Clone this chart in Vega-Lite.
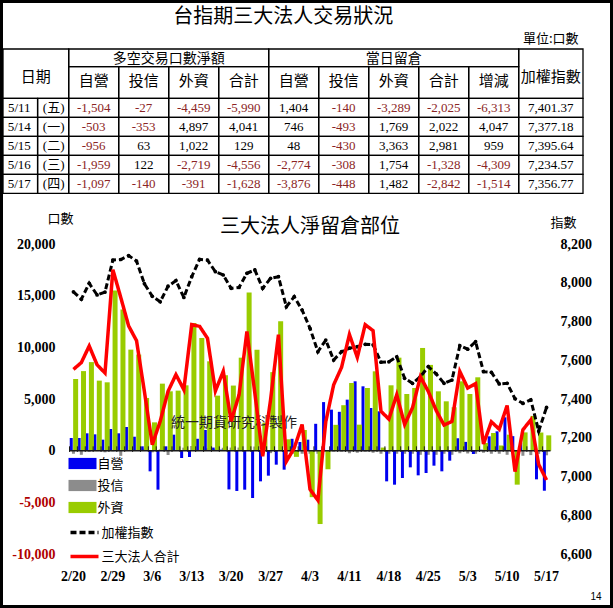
{
"$schema": "https://vega.github.io/schema/vega-lite/v6.json",
"width": 610, "height": 605, "padding": 1.5,
"autosize": {"type": "none"},
"background": "white",
"config": {
  "view": {"stroke": "black", "strokeWidth": 3},
  "locale": {"number": {"decimal": ".", "thousands": ",", "grouping": [3], "currency": ["$", ""], "minus": "-"}},
  "axis": {"grid": false}
},
"datasets": {
  "one": [{}],
  "hdr": [
    {"col": "n_dealer", "label": "自營"}, {"col": "n_trust", "label": "投信"}, {"col": "n_foreign", "label": "外資"}, {"col": "n_total", "label": "合計"},
    {"col": "o_dealer", "label": "自營"}, {"col": "o_trust", "label": "投信"}, {"col": "o_foreign", "label": "外資"}, {"col": "o_total", "label": "合計"}, {"col": "o_chg", "label": "增減"}
  ],
  "tbl": [
    {"date": "5/11", "wd": "(五)", "n_dealer": -1504, "n_trust": -27, "n_foreign": -4459, "n_total": -5990, "o_dealer": 1404, "o_trust": -140, "o_foreign": -3289, "o_total": -2025, "o_chg": -6313, "taiex": 7401.37},
    {"date": "5/14", "wd": "(一)", "n_dealer": -503, "n_trust": -353, "n_foreign": 4897, "n_total": 4041, "o_dealer": 746, "o_trust": -493, "o_foreign": 1769, "o_total": 2022, "o_chg": 4047, "taiex": 7377.18},
    {"date": "5/15", "wd": "(二)", "n_dealer": -956, "n_trust": 63, "n_foreign": 1022, "n_total": 129, "o_dealer": 48, "o_trust": -430, "o_foreign": 3363, "o_total": 2981, "o_chg": 959, "taiex": 7395.64},
    {"date": "5/16", "wd": "(三)", "n_dealer": -1959, "n_trust": 122, "n_foreign": -2719, "n_total": -4556, "o_dealer": -2774, "o_trust": -308, "o_foreign": 1754, "o_total": -1328, "o_chg": -4309, "taiex": 7234.57},
    {"date": "5/17", "wd": "(四)", "n_dealer": -1097, "n_trust": -140, "n_foreign": -391, "n_total": -1628, "o_dealer": -3876, "o_trust": -448, "o_foreign": 1482, "o_total": -2842, "o_chg": -1514, "taiex": 7356.77}
  ],
  "daily": [
    {"d": "2/20", "dealer": 1226, "trust": -300, "foreign": 6938, "total": 7864, "taiex": 7953},
    {"d": "2/21", "dealer": 1226, "trust": -400, "foreign": 7700, "total": 8526, "taiex": 7915},
    {"d": "2/22", "dealer": 1680, "trust": -120, "foreign": 8570, "total": 10130, "taiex": 7997},
    {"d": "2/23", "dealer": 1580, "trust": -50, "foreign": 6777, "total": 8307, "taiex": 7937},
    {"d": "2/24", "dealer": 1065, "trust": -160, "foreign": 6615, "total": 7520, "taiex": 7952},
    {"d": "2/29", "dealer": 2098, "trust": -70, "foreign": 15490, "total": 17518, "taiex": 8117},
    {"d": "3/1", "dealer": 1680, "trust": -500, "foreign": 13650, "total": 14830, "taiex": 8120},
    {"d": "3/2", "dealer": 2291, "trust": 0, "foreign": 9778, "total": 12069, "taiex": 8140},
    {"d": "3/3", "dealer": 1350, "trust": 0, "foreign": 9300, "total": 10650, "taiex": 8112},
    {"d": "3/5", "dealer": 420, "trust": 200, "foreign": 5100, "total": 5720, "taiex": 7995},
    {"d": "3/6", "dealer": -2000, "trust": -160, "foreign": 2740, "total": 580, "taiex": 7930},
    {"d": "3/7", "dealer": -3775, "trust": 130, "foreign": 6486, "total": 2841, "taiex": 7902},
    {"d": "3/8", "dealer": 420, "trust": -420, "foreign": 5744, "total": 5744, "taiex": 7982},
    {"d": "3/9", "dealer": 1549, "trust": 0, "foreign": 5809, "total": 7358, "taiex": 8011},
    {"d": "3/12", "dealer": -710, "trust": 290, "foreign": 6325, "total": 5905, "taiex": 7924},
    {"d": "3/13", "dealer": -613, "trust": 450, "foreign": 12360, "total": 12197, "taiex": 8031},
    {"d": "3/14", "dealer": 1150, "trust": -30, "foreign": 10907, "total": 12027, "taiex": 8121},
    {"d": "3/15", "dealer": 2000, "trust": 230, "foreign": 8648, "total": 10878, "taiex": 8117},
    {"d": "3/16", "dealer": 300, "trust": 150, "foreign": 5325, "total": 5775, "taiex": 8057},
    {"d": "3/19", "dealer": 100, "trust": 280, "foreign": 7300, "total": 7680, "taiex": 8040},
    {"d": "3/20", "dealer": -3750, "trust": 300, "foreign": 6300, "total": 2850, "taiex": 7971},
    {"d": "3/21", "dealer": -3900, "trust": 300, "foreign": 9000, "total": 5400, "taiex": 7976},
    {"d": "3/22", "dealer": -3775, "trust": 0, "foreign": 15300, "total": 11525, "taiex": 8049},
    {"d": "3/23", "dealer": -4582, "trust": 400, "foreign": 9778, "total": 5596, "taiex": 8066},
    {"d": "3/26", "dealer": -2969, "trust": -280, "foreign": 2700, "total": -549, "taiex": 7971},
    {"d": "3/27", "dealer": -2420, "trust": -240, "foreign": 7600, "total": 4940, "taiex": 8023},
    {"d": "3/28", "dealer": -1355, "trust": 65, "foreign": 12520, "total": 11230, "taiex": 8031},
    {"d": "3/29", "dealer": -1840, "trust": -300, "foreign": 1100, "total": -1040, "taiex": 7876},
    {"d": "3/30", "dealer": 1150, "trust": -300, "foreign": -600, "total": 250, "taiex": 7928},
    {"d": "4/2", "dealer": 839, "trust": -300, "foreign": 2000, "total": 2539, "taiex": 7859},
    {"d": "4/3", "dealer": 1065, "trust": -300, "foreign": -4500, "total": -3735, "taiex": 7765},
    {"d": "4/5", "dealer": 2600, "trust": -300, "foreign": -7100, "total": -4800, "taiex": 7644},
    {"d": "4/6", "dealer": 4700, "trust": -100, "foreign": -1800, "total": 2800, "taiex": 7704},
    {"d": "4/9", "dealer": 3969, "trust": -100, "foreign": 2500, "total": 6369, "taiex": 7601},
    {"d": "4/10", "dealer": 3760, "trust": -100, "foreign": 4400, "total": 8060, "taiex": 7644},
    {"d": "4/11", "dealer": 4937, "trust": -250, "foreign": 6550, "total": 11237, "taiex": 7662},
    {"d": "4/12", "dealer": 6712, "trust": -200, "foreign": 2517, "total": 9029, "taiex": 7670},
    {"d": "4/13", "dealer": 6228, "trust": -100, "foreign": 6067, "total": 12195, "taiex": 7682},
    {"d": "4/16", "dealer": 4130, "trust": -200, "foreign": 7680, "total": 11610, "taiex": 7680},
    {"d": "4/17", "dealer": 3808, "trust": -300, "foreign": 300, "total": 3808, "taiex": 7590},
    {"d": "4/18", "dealer": -2969, "trust": -300, "foreign": 6325, "total": 3056, "taiex": 7592},
    {"d": "4/19", "dealer": -3292, "trust": -300, "foreign": 9000, "total": 5408, "taiex": 7618},
    {"d": "4/20", "dealer": -2646, "trust": -300, "foreign": 5486, "total": 2540, "taiex": 7507},
    {"d": "4/23", "dealer": -1614, "trust": -300, "foreign": 6067, "total": 4153, "taiex": 7481},
    {"d": "4/24", "dealer": -2388, "trust": -400, "foreign": 9939, "total": 7151, "taiex": 7515},
    {"d": "4/25", "dealer": -2162, "trust": -400, "foreign": 8300, "total": 5738, "taiex": 7567},
    {"d": "4/26", "dealer": -1452, "trust": -400, "foreign": 5744, "total": 3892, "taiex": 7530},
    {"d": "4/27", "dealer": -2000, "trust": -300, "foreign": 4776, "total": 2476, "taiex": 7481},
    {"d": "4/30", "dealer": -968, "trust": -400, "foreign": 4200, "total": 2832, "taiex": 7498},
    {"d": "5/2", "dealer": 1200, "trust": -250, "foreign": 6712, "total": 7662, "taiex": 7675},
    {"d": "5/3", "dealer": 850, "trust": -270, "foreign": 5486, "total": 6066, "taiex": 7657},
    {"d": "5/4", "dealer": -323, "trust": -300, "foreign": 7100, "total": 6477, "taiex": 7696},
    {"d": "5/7", "dealer": 100, "trust": -200, "foreign": 742, "total": 642, "taiex": 7541},
    {"d": "5/8", "dealer": 1388, "trust": -300, "foreign": 1710, "total": 2798, "taiex": 7538},
    {"d": "5/9", "dealer": 1872, "trust": -300, "foreign": 500, "total": 2072, "taiex": 7478},
    {"d": "5/10", "dealer": 3227, "trust": -400, "foreign": 1549, "total": 4376, "taiex": 7481},
    {"d": "5/11", "dealer": 1404, "trust": -140, "foreign": -3289, "total": -2025, "taiex": 7401.37},
    {"d": "5/14", "dealer": 746, "trust": -493, "foreign": 1769, "total": 2022, "taiex": 7377.18},
    {"d": "5/15", "dealer": 48, "trust": -430, "foreign": 3363, "total": 2981, "taiex": 7395.64},
    {"d": "5/16", "dealer": -2774, "trust": -308, "foreign": 1754, "total": -1328, "taiex": 7234.57},
    {"d": "5/17", "dealer": -3876, "trust": -448, "foreign": 1482, "total": -2842, "taiex": 7356.77}
  ]
},
"layer": [
  {
    "layer": [
      {
        "data": {"name": "tbl"},
        "transform": [{"fold": ["n_dealer", "n_trust", "n_foreign", "n_total", "o_dealer", "o_trust", "o_foreign", "o_total", "o_chg"], "as": ["col", "val"]}],
        "encoding": {
          "x": {"field": "col", "type": "ordinal", "axis": null, "scale": {"domain": ["date", "n_dealer", "n_trust", "n_foreign", "n_total", "o_dealer", "o_trust", "o_foreign", "o_total", "o_chg", "taiex"], "range": [17.2, 567.2], "paddingInner": 0, "paddingOuter": 0}},
          "y": {"field": "date", "type": "ordinal", "axis": null, "scale": {"domain": ["h1", "h2", "5/11", "5/14", "5/15", "5/16", "5/17"], "range": [58.8, 191.8], "paddingInner": 0, "paddingOuter": 0}}
        },
        "layer": [
          {"mark": {"type": "rect", "fill": "transparent", "stroke": "black", "strokeWidth": 1.3}},
          {"mark": {"type": "text", "font": "Liberation Serif", "fontSize": 13},
           "encoding": {"text": {"field": "val", "type": "quantitative", "format": ",d"},
                        "color": {"condition": {"test": "datum.val < 0", "value": "#8b2525"}, "value": "black"}}}
        ]
      },
      {
        "data": {"name": "tbl"},
        "encoding": {
          "y": {"field": "date", "type": "ordinal", "axis": null, "scale": {"domain": ["h1", "h2", "5/11", "5/14", "5/15", "5/16", "5/17"], "range": [58.8, 191.8], "paddingInner": 0, "paddingOuter": 0}}
        },
        "layer": [
          {"mark": {"type": "rect", "fill": "transparent", "stroke": "black", "strokeWidth": 1.3},
           "encoding": {"x": {"datum": "date", "type": "ordinal", "bandPosition": -0.314, "axis": null, "scale": {"domain": ["date", "n_dealer", "n_trust", "n_foreign", "n_total", "o_dealer", "o_trust", "o_foreign", "o_total", "o_chg", "taiex"], "range": [17.2, 567.2], "paddingInner": 0, "paddingOuter": 0}},
                        "x2": {"datum": "date", "bandPosition": 0.378}}},
          {"mark": {"type": "rect", "fill": "transparent", "stroke": "black", "strokeWidth": 1.3},
           "encoding": {"x": {"datum": "date", "type": "ordinal", "bandPosition": 0.378, "axis": null, "scale": {"domain": ["date", "n_dealer", "n_trust", "n_foreign", "n_total", "o_dealer", "o_trust", "o_foreign", "o_total", "o_chg", "taiex"], "range": [17.2, 567.2], "paddingInner": 0, "paddingOuter": 0}},
                        "x2": {"datum": "date", "bandPosition": 1}}},
          {"mark": {"type": "rect", "fill": "transparent", "stroke": "black", "strokeWidth": 1.3},
           "encoding": {"x": {"datum": "taiex", "type": "ordinal", "bandPosition": 0, "axis": null, "scale": {"domain": ["date", "n_dealer", "n_trust", "n_foreign", "n_total", "o_dealer", "o_trust", "o_foreign", "o_total", "o_chg", "taiex"], "range": [17.2, 567.2], "paddingInner": 0, "paddingOuter": 0}},
                        "x2": {"datum": "taiex", "bandPosition": 1.286}}},
          {"mark": {"type": "text", "font": "Liberation Serif", "fontSize": 13, "color": "black"},
           "encoding": {"x": {"datum": "date", "type": "ordinal", "bandPosition": 0.01, "axis": null, "scale": {"domain": ["date", "n_dealer", "n_trust", "n_foreign", "n_total", "o_dealer", "o_trust", "o_foreign", "o_total", "o_chg", "taiex"], "range": [17.2, 567.2], "paddingInner": 0, "paddingOuter": 0}},
                        "text": {"field": "date"}}},
          {"mark": {"type": "text", "font": "Liberation Serif, Noto Sans CJK TC", "fontSize": 13, "color": "black"},
           "encoding": {"x": {"datum": "date", "type": "ordinal", "bandPosition": 0.7, "axis": null, "scale": {"domain": ["date", "n_dealer", "n_trust", "n_foreign", "n_total", "o_dealer", "o_trust", "o_foreign", "o_total", "o_chg", "taiex"], "range": [17.2, 567.2], "paddingInner": 0, "paddingOuter": 0}},
                        "text": {"field": "wd"}}},
          {"mark": {"type": "text", "font": "Liberation Serif", "fontSize": 13, "color": "black"},
           "encoding": {"x": {"datum": "taiex", "type": "ordinal", "bandPosition": 0.643, "axis": null, "scale": {"domain": ["date", "n_dealer", "n_trust", "n_foreign", "n_total", "o_dealer", "o_trust", "o_foreign", "o_total", "o_chg", "taiex"], "range": [17.2, 567.2], "paddingInner": 0, "paddingOuter": 0}},
                        "text": {"field": "taiex", "type": "quantitative", "format": ",.2f"}}}
        ]
      },
      {
        "data": {"name": "hdr"},
        "encoding": {
          "x": {"field": "col", "type": "ordinal", "axis": null, "scale": {"domain": ["date", "n_dealer", "n_trust", "n_foreign", "n_total", "o_dealer", "o_trust", "o_foreign", "o_total", "o_chg", "taiex"], "range": [17.2, 567.2], "paddingInner": 0, "paddingOuter": 0}}
        },
        "layer": [
          {"mark": {"type": "rect", "fill": "transparent", "stroke": "black", "strokeWidth": 1.3},
           "encoding": {"y": {"datum": "h2", "type": "ordinal", "bandPosition": -0.663, "axis": null, "scale": {"domain": ["h1", "h2", "5/11", "5/14", "5/15", "5/16", "5/17"], "range": [58.8, 191.8], "paddingInner": 0, "paddingOuter": 0}},
                        "y2": {"datum": "h2", "bandPosition": 1}}},
          {"mark": {"type": "text", "font": "Noto Sans CJK TC", "fontSize": 15, "color": "black"},
           "encoding": {"y": {"datum": "h2", "type": "ordinal", "bandPosition": 0.09, "axis": null, "scale": {"domain": ["h1", "h2", "5/11", "5/14", "5/15", "5/16", "5/17"], "range": [58.8, 191.8], "paddingInner": 0, "paddingOuter": 0}},
                        "text": {"field": "label"}}}
        ]
      },
      {
        "data": {"name": "one"},
        "layer": [
          {"mark": {"type": "rect", "fill": "transparent", "stroke": "black", "strokeWidth": 1.3},
           "encoding": {"x": {"datum": "n_dealer", "type": "ordinal", "bandPosition": 0, "axis": null, "scale": {"domain": ["date", "n_dealer", "n_trust", "n_foreign", "n_total", "o_dealer", "o_trust", "o_foreign", "o_total", "o_chg", "taiex"], "range": [17.2, 567.2], "paddingInner": 0, "paddingOuter": 0}},
                        "x2": {"datum": "n_total", "bandPosition": 1},
                        "y": {"datum": "h1", "type": "ordinal", "bandPosition": -0.595, "axis": null, "scale": {"domain": ["h1", "h2", "5/11", "5/14", "5/15", "5/16", "5/17"], "range": [58.8, 191.8], "paddingInner": 0, "paddingOuter": 0}},
                        "y2": {"datum": "h1", "bandPosition": 0.337}}},
          {"mark": {"type": "rect", "fill": "transparent", "stroke": "black", "strokeWidth": 1.3},
           "encoding": {"x": {"datum": "o_dealer", "type": "ordinal", "bandPosition": 0, "axis": null, "scale": {"domain": ["date", "n_dealer", "n_trust", "n_foreign", "n_total", "o_dealer", "o_trust", "o_foreign", "o_total", "o_chg", "taiex"], "range": [17.2, 567.2], "paddingInner": 0, "paddingOuter": 0}},
                        "x2": {"datum": "o_chg", "bandPosition": 1},
                        "y": {"datum": "h1", "type": "ordinal", "bandPosition": -0.595, "axis": null, "scale": {"domain": ["h1", "h2", "5/11", "5/14", "5/15", "5/16", "5/17"], "range": [58.8, 191.8], "paddingInner": 0, "paddingOuter": 0}},
                        "y2": {"datum": "h1", "bandPosition": 0.337}}},
          {"mark": {"type": "rect", "fill": "transparent", "stroke": "black", "strokeWidth": 1.3},
           "encoding": {"x": {"datum": "date", "type": "ordinal", "bandPosition": -0.314, "axis": null, "scale": {"domain": ["date", "n_dealer", "n_trust", "n_foreign", "n_total", "o_dealer", "o_trust", "o_foreign", "o_total", "o_chg", "taiex"], "range": [17.2, 567.2], "paddingInner": 0, "paddingOuter": 0}},
                        "x2": {"datum": "date", "bandPosition": 1},
                        "y": {"datum": "h1", "type": "ordinal", "bandPosition": -0.595, "axis": null, "scale": {"domain": ["h1", "h2", "5/11", "5/14", "5/15", "5/16", "5/17"], "range": [58.8, 191.8], "paddingInner": 0, "paddingOuter": 0}},
                        "y2": {"datum": "h2", "bandPosition": 1}}},
          {"mark": {"type": "rect", "fill": "transparent", "stroke": "black", "strokeWidth": 1.3},
           "encoding": {"x": {"datum": "taiex", "type": "ordinal", "bandPosition": 0, "axis": null, "scale": {"domain": ["date", "n_dealer", "n_trust", "n_foreign", "n_total", "o_dealer", "o_trust", "o_foreign", "o_total", "o_chg", "taiex"], "range": [17.2, 567.2], "paddingInner": 0, "paddingOuter": 0}},
                        "x2": {"datum": "taiex", "bandPosition": 1.286},
                        "y": {"datum": "h1", "type": "ordinal", "bandPosition": -0.595, "axis": null, "scale": {"domain": ["h1", "h2", "5/11", "5/14", "5/15", "5/16", "5/17"], "range": [58.8, 191.8], "paddingInner": 0, "paddingOuter": 0}},
                        "y2": {"datum": "h2", "bandPosition": 1}}},
          {"mark": {"type": "text", "font": "Noto Sans CJK TC", "fontSize": 14, "color": "black"},
           "encoding": {"x": {"datum": "n_foreign", "type": "ordinal", "bandPosition": 0, "axis": null, "scale": {"domain": ["date", "n_dealer", "n_trust", "n_foreign", "n_total", "o_dealer", "o_trust", "o_foreign", "o_total", "o_chg", "taiex"], "range": [17.2, 567.2], "paddingInner": 0, "paddingOuter": 0}},
                        "y": {"datum": "h1", "type": "ordinal", "bandPosition": -0.07, "axis": null, "scale": {"domain": ["h1", "h2", "5/11", "5/14", "5/15", "5/16", "5/17"], "range": [58.8, 191.8], "paddingInner": 0, "paddingOuter": 0}},
                        "text": {"value": "多空交易口數淨額"}}},
          {"mark": {"type": "text", "font": "Noto Sans CJK TC", "fontSize": 14, "color": "black"},
           "encoding": {"x": {"datum": "o_foreign", "type": "ordinal", "bandPosition": 0.5, "axis": null, "scale": {"domain": ["date", "n_dealer", "n_trust", "n_foreign", "n_total", "o_dealer", "o_trust", "o_foreign", "o_total", "o_chg", "taiex"], "range": [17.2, 567.2], "paddingInner": 0, "paddingOuter": 0}},
                        "y": {"datum": "h1", "type": "ordinal", "bandPosition": -0.07, "axis": null, "scale": {"domain": ["h1", "h2", "5/11", "5/14", "5/15", "5/16", "5/17"], "range": [58.8, 191.8], "paddingInner": 0, "paddingOuter": 0}},
                        "text": {"value": "當日留倉"}}},
          {"mark": {"type": "text", "font": "Noto Sans CJK TC", "fontSize": 15, "color": "black"},
           "encoding": {"x": {"datum": "date", "type": "ordinal", "bandPosition": 0.343, "axis": null, "scale": {"domain": ["date", "n_dealer", "n_trust", "n_foreign", "n_total", "o_dealer", "o_trust", "o_foreign", "o_total", "o_chg", "taiex"], "range": [17.2, 567.2], "paddingInner": 0, "paddingOuter": 0}},
                        "y": {"datum": "h1", "type": "ordinal", "bandPosition": 0.863, "axis": null, "scale": {"domain": ["h1", "h2", "5/11", "5/14", "5/15", "5/16", "5/17"], "range": [58.8, 191.8], "paddingInner": 0, "paddingOuter": 0}},
                        "text": {"value": "日期"}}},
          {"mark": {"type": "text", "font": "Noto Sans CJK TC", "fontSize": 15, "color": "black"},
           "encoding": {"x": {"datum": "taiex", "type": "ordinal", "bandPosition": 0.643, "axis": null, "scale": {"domain": ["date", "n_dealer", "n_trust", "n_foreign", "n_total", "o_dealer", "o_trust", "o_foreign", "o_total", "o_chg", "taiex"], "range": [17.2, 567.2], "paddingInner": 0, "paddingOuter": 0}},
                        "y": {"datum": "h1", "type": "ordinal", "bandPosition": 0.863, "axis": null, "scale": {"domain": ["h1", "h2", "5/11", "5/14", "5/15", "5/16", "5/17"], "range": [58.8, 191.8], "paddingInner": 0, "paddingOuter": 0}},
                        "text": {"value": "加權指數"}}},
          {"mark": {"type": "text", "font": "Noto Sans CJK TC", "fontSize": 13, "color": "black"},
           "encoding": {"x": {"datum": "taiex", "type": "ordinal", "bandPosition": 0.64, "axis": null, "scale": {"domain": ["date", "n_dealer", "n_trust", "n_foreign", "n_total", "o_dealer", "o_trust", "o_foreign", "o_total", "o_chg", "taiex"], "range": [17.2, 567.2], "paddingInner": 0, "paddingOuter": 0}},
                        "y": {"datum": "h1", "type": "ordinal", "bandPosition": -1.12, "axis": null, "scale": {"domain": ["h1", "h2", "5/11", "5/14", "5/15", "5/16", "5/17"], "range": [58.8, 191.8], "paddingInner": 0, "paddingOuter": 0}},
                        "text": {"value": "單位:口數"}}},
          {"mark": {"type": "text", "font": "Noto Sans CJK TC", "fontSize": 20, "color": "black"},
           "encoding": {"x": {"datum": "o_dealer", "type": "ordinal", "bandPosition": 0.29, "axis": null, "scale": {"domain": ["date", "n_dealer", "n_trust", "n_foreign", "n_total", "o_dealer", "o_trust", "o_foreign", "o_total", "o_chg", "taiex"], "range": [17.2, 567.2], "paddingInner": 0, "paddingOuter": 0}},
                        "y": {"datum": "h1", "type": "ordinal", "bandPosition": -2.28, "axis": null, "scale": {"domain": ["h1", "h2", "5/11", "5/14", "5/15", "5/16", "5/17"], "range": [58.8, 191.8], "paddingInner": 0, "paddingOuter": 0}},
                        "text": {"value": "台指期三大法人交易狀況"}}},
          {"mark": {"type": "text", "font": "Liberation Sans", "fontSize": 10, "color": "black"},
           "encoding": {"x": {"datum": "taiex", "type": "ordinal", "bandPosition": 1.546, "axis": null, "scale": {"domain": ["date", "n_dealer", "n_trust", "n_foreign", "n_total", "o_dealer", "o_trust", "o_foreign", "o_total", "o_chg", "taiex"], "range": [17.2, 567.2], "paddingInner": 0, "paddingOuter": 0}},
                        "y": {"datum": "5/17", "type": "ordinal", "bandPosition": 22.25, "axis": null, "scale": {"domain": ["h1", "h2", "5/11", "5/14", "5/15", "5/16", "5/17"], "range": [58.8, 191.8], "paddingInner": 0, "paddingOuter": 0}},
                        "text": {"value": "14"}}}
        ]
      }
    ]
  },
  {
    "data": {"name": "daily"},
    "encoding": {
      "x": {"field": "d", "type": "ordinal", "scale": {"domain": ["2/20","2/21","2/22","2/23","2/24","2/29","3/1","3/2","3/3","3/5","3/6","3/7","3/8","3/9","3/12","3/13","3/14","3/15","3/16","3/19","3/20","3/21","3/22","3/23","3/26","3/27","3/28","3/29","3/30","4/2","4/3","4/5","4/6","4/9","4/10","4/11","4/12","4/13","4/16","4/17","4/18","4/19","4/20","4/23","4/24","4/25","4/26","4/27","4/30","5/2","5/3","5/4","5/7","5/8","5/9","5/10","5/11","5/14","5/15","5/16","5/17"], "range": [68, 549], "paddingInner": 0, "paddingOuter": 0},
            "axis": {"orient": "bottom", "offset": -39.5, "values": ["2/20","2/29","3/6","3/13","3/20","3/27","4/3","4/11","4/18","4/25","5/3","5/10","5/17"], "domain": false, "ticks": false, "labelPadding": 2, "labelFont": "Liberation Serif", "labelFontSize": 14, "labelFontWeight": "bold", "labelAngle": 0, "labelColor": "black", "labelOverlap": false, "title": null}}
    },
    "layer": [
      {"mark": {"type": "bar", "width": 3, "xOffset": 0},
       "encoding": {
         "y": {"field": "trust", "type": "quantitative", "scale": {"domain": [-10000, 20000], "range": [552.5, 242.5], "nice": false},
               "axis": {"orient": "left", "offset": -55.5, "values": [-10000, -5000, 0, 5000, 10000, 15000, 20000], "format": ",.0f", "domain": false, "ticks": false, "grid": false, "labelPadding": 2, "labelFont": "Liberation Serif", "labelFontSize": 14, "labelFontWeight": "bold", "labelColor": {"condition": {"test": "datum.value < 0", "value": "#b00000"}, "value": "black"}, "title": "口數", "titleAngle": 0, "titleX": 3, "titleY": 216.5, "titleAlign": "center", "titleBaseline": "middle", "titleFont": "Noto Sans CJK TC", "titleFontSize": 13, "titleFontWeight": "normal", "titleColor": "black"}},
         "fill": {"datum": "投信", "type": "nominal", "scale": {"domain": ["自營", "投信", "外資"], "range": ["#0000f0", "#8c8c8c", "#99cc00"]},
                  "legend": {"title": null, "orient": "none", "legendX": 74, "legendY": 455, "symbolType": "M-2,-0.8H2V0.8H-2Z", "symbolSize": 196, "symbolStrokeWidth": 0, "labelFont": "Noto Sans CJK TC", "labelFontSize": 13, "labelColor": "black", "labelOffset": 8, "rowPadding": 8, "padding": 0}}
       }},
      {"mark": {"type": "bar", "width": 3, "xOffset": -2.2},
       "encoding": {
         "y": {"field": "dealer", "type": "quantitative", "scale": {"domain": [-10000, 20000], "range": [552.5, 242.5], "nice": false},
               "axis": {"orient": "left", "offset": -55.5, "values": [-10000, -5000, 0, 5000, 10000, 15000, 20000], "format": ",.0f", "domain": false, "ticks": false, "grid": false, "labelPadding": 2, "labelFont": "Liberation Serif", "labelFontSize": 14, "labelFontWeight": "bold", "labelColor": {"condition": {"test": "datum.value < 0", "value": "#b00000"}, "value": "black"}, "title": "口數", "titleAngle": 0, "titleX": 3, "titleY": 216.5, "titleAlign": "center", "titleBaseline": "middle", "titleFont": "Noto Sans CJK TC", "titleFontSize": 13, "titleFontWeight": "normal", "titleColor": "black"}},
         "fill": {"datum": "自營", "type": "nominal", "scale": {"domain": ["自營", "投信", "外資"], "range": ["#0000f0", "#8c8c8c", "#99cc00"]},
                  "legend": {"title": null, "orient": "none", "legendX": 74, "legendY": 455, "symbolType": "M-2,-0.8H2V0.8H-2Z", "symbolSize": 196, "symbolStrokeWidth": 0, "labelFont": "Noto Sans CJK TC", "labelFontSize": 13, "labelColor": "black", "labelOffset": 8, "rowPadding": 8, "padding": 0}}
       }},
      {"mark": {"type": "bar", "width": 5, "xOffset": 2.2},
       "encoding": {
         "y": {"field": "foreign", "type": "quantitative", "scale": {"domain": [-10000, 20000], "range": [552.5, 242.5], "nice": false},
               "axis": {"orient": "left", "offset": -55.5, "values": [-10000, -5000, 0, 5000, 10000, 15000, 20000], "format": ",.0f", "domain": false, "ticks": false, "grid": false, "labelPadding": 2, "labelFont": "Liberation Serif", "labelFontSize": 14, "labelFontWeight": "bold", "labelColor": {"condition": {"test": "datum.value < 0", "value": "#b00000"}, "value": "black"}, "title": "口數", "titleAngle": 0, "titleX": 3, "titleY": 216.5, "titleAlign": "center", "titleBaseline": "middle", "titleFont": "Noto Sans CJK TC", "titleFontSize": 13, "titleFontWeight": "normal", "titleColor": "black"}},
         "fill": {"datum": "外資", "type": "nominal", "scale": {"domain": ["自營", "投信", "外資"], "range": ["#0000f0", "#8c8c8c", "#99cc00"]},
                  "legend": {"title": null, "orient": "none", "legendX": 74, "legendY": 455, "symbolType": "M-2,-0.8H2V0.8H-2Z", "symbolSize": 196, "symbolStrokeWidth": 0, "labelFont": "Noto Sans CJK TC", "labelFontSize": 13, "labelColor": "black", "labelOffset": 8, "rowPadding": 8, "padding": 0}}
       }},
      {"data": {"name": "one"},
       "mark": {"type": "rule", "color": "#1a1a1a", "strokeWidth": 1.5},
       "encoding": {
         "x": {"datum": "2/20", "type": "ordinal", "bandPosition": 0},
         "x2": {"datum": "5/17", "bandPosition": 1},
         "y": {"datum": 0, "type": "quantitative", "scale": {"domain": [-10000, 20000], "range": [552.5, 242.5], "nice": false},
               "axis": {"orient": "left", "offset": -55.5, "values": [-10000, -5000, 0, 5000, 10000, 15000, 20000], "format": ",.0f", "domain": false, "ticks": false, "grid": false, "labelPadding": 2, "labelFont": "Liberation Serif", "labelFontSize": 14, "labelFontWeight": "bold", "labelColor": {"condition": {"test": "datum.value < 0", "value": "#b00000"}, "value": "black"}, "title": "口數", "titleAngle": 0, "titleX": 3, "titleY": 216.5, "titleAlign": "center", "titleBaseline": "middle", "titleFont": "Noto Sans CJK TC", "titleFontSize": 13, "titleFontWeight": "normal", "titleColor": "black"}}
       }},
      {"mark": {"type": "rule", "color": "#1a1a1a", "strokeWidth": 1},
       "encoding": {
         "x": {"field": "d", "type": "ordinal", "bandPosition": 0},
         "y": {"datum": -120, "type": "quantitative", "scale": {"domain": [-10000, 20000], "range": [552.5, 242.5], "nice": false},
               "axis": {"orient": "left", "offset": -55.5, "values": [-10000, -5000, 0, 5000, 10000, 15000, 20000], "format": ",.0f", "domain": false, "ticks": false, "grid": false, "labelPadding": 2, "labelFont": "Liberation Serif", "labelFontSize": 14, "labelFontWeight": "bold", "labelColor": {"condition": {"test": "datum.value < 0", "value": "#b00000"}, "value": "black"}, "title": "口數", "titleAngle": 0, "titleX": 3, "titleY": 216.5, "titleAlign": "center", "titleBaseline": "middle", "titleFont": "Noto Sans CJK TC", "titleFontSize": 13, "titleFontWeight": "normal", "titleColor": "black"}},
         "y2": {"datum": 420}
       }},
      {"data": {"name": "one"},
       "mark": {"type": "text", "font": "Noto Sans CJK TC", "fontSize": 14, "color": "#222222"},
       "encoding": {
         "x": {"datum": "3/20", "type": "ordinal", "bandPosition": 0.86},
         "y": {"datum": 2710, "type": "quantitative", "scale": {"domain": [-10000, 20000], "range": [552.5, 242.5], "nice": false},
               "axis": {"orient": "left", "offset": -55.5, "values": [-10000, -5000, 0, 5000, 10000, 15000, 20000], "format": ",.0f", "domain": false, "ticks": false, "grid": false, "labelPadding": 2, "labelFont": "Liberation Serif", "labelFontSize": 14, "labelFontWeight": "bold", "labelColor": {"condition": {"test": "datum.value < 0", "value": "#b00000"}, "value": "black"}, "title": "口數", "titleAngle": 0, "titleX": 3, "titleY": 216.5, "titleAlign": "center", "titleBaseline": "middle", "titleFont": "Noto Sans CJK TC", "titleFontSize": 13, "titleFontWeight": "normal", "titleColor": "black"}},
         "text": {"value": "統一期貨研究科製作"}
       }},
      {"data": {"name": "one"},
       "mark": {"type": "text", "font": "Noto Sans CJK TC", "fontSize": 20, "color": "black"},
       "encoding": {
         "x": {"datum": "4/3", "type": "ordinal"},
         "y": {"datum": 21600, "type": "quantitative", "scale": {"domain": [-10000, 20000], "range": [552.5, 242.5], "nice": false},
               "axis": {"orient": "left", "offset": -55.5, "values": [-10000, -5000, 0, 5000, 10000, 15000, 20000], "format": ",.0f", "domain": false, "ticks": false, "grid": false, "labelPadding": 2, "labelFont": "Liberation Serif", "labelFontSize": 14, "labelFontWeight": "bold", "labelColor": {"condition": {"test": "datum.value < 0", "value": "#b00000"}, "value": "black"}, "title": "口數", "titleAngle": 0, "titleX": 3, "titleY": 216.5, "titleAlign": "center", "titleBaseline": "middle", "titleFont": "Noto Sans CJK TC", "titleFontSize": 13, "titleFontWeight": "normal", "titleColor": "black"}},
         "text": {"value": "三大法人淨留倉部位"}
       }}
    ]
  },
  {
    "data": {"name": "daily"},
    "encoding": {
      "x": {"field": "d", "type": "ordinal", "axis": null, "scale": {"domain": ["2/20","2/21","2/22","2/23","2/24","2/29","3/1","3/2","3/3","3/5","3/6","3/7","3/8","3/9","3/12","3/13","3/14","3/15","3/16","3/19","3/20","3/21","3/22","3/23","3/26","3/27","3/28","3/29","3/30","4/2","4/3","4/5","4/6","4/9","4/10","4/11","4/12","4/13","4/16","4/17","4/18","4/19","4/20","4/23","4/24","4/25","4/26","4/27","4/30","5/2","5/3","5/4","5/7","5/8","5/9","5/10","5/11","5/14","5/15","5/16","5/17"], "range": [68, 549], "paddingInner": 0, "paddingOuter": 0}},
      "y": {"field": "taiex", "type": "quantitative", "scale": {"domain": [6600, 8200], "range": [552.5, 242.5], "nice": false, "zero": false},
            "axis": {"orient": "right", "offset": -53.5, "values": [6600, 6800, 7000, 7200, 7400, 7600, 7800, 8000, 8200], "format": ",.0f", "domain": false, "ticks": false, "grid": false, "labelPadding": 2, "labelFont": "Liberation Serif", "labelFontSize": 14, "labelFontWeight": "bold", "labelColor": "black", "title": "指數", "titleAngle": 0, "titleX": 5, "titleY": 220.5, "titleAlign": "center", "titleBaseline": "middle", "titleFont": "Noto Sans CJK TC", "titleFontSize": 13, "titleFontWeight": "normal", "titleColor": "black"}}
    },
    "layer": [
      {"mark": {"type": "line", "strokeWidth": 3},
       "encoding": {
         "stroke": {"datum": "加權指數", "type": "nominal", "scale": {"domain": ["加權指數", "三大法人合計"], "range": ["#000000", "#ff0000"]},
                    "legend": {"title": null, "orient": "none", "legendX": 74, "legendY": 522, "symbolType": "M-2,0H2", "symbolSize": 196, "symbolStrokeWidth": 3.5, "labelFont": "Noto Sans CJK TC", "labelFontSize": 13, "labelColor": "black", "labelOffset": 8, "rowPadding": 8, "padding": 0}},
         "strokeDash": {"datum": "加權指數", "type": "nominal", "scale": {"domain": ["加權指數", "三大法人合計"], "range": [[6, 3], [1, 0]]},
                    "legend": {"title": null, "orient": "none", "legendX": 74, "legendY": 522, "symbolType": "M-2,0H2", "symbolSize": 196, "symbolStrokeWidth": 3.5, "labelFont": "Noto Sans CJK TC", "labelFontSize": 13, "labelColor": "black", "labelOffset": 8, "rowPadding": 8, "padding": 0}}
       }},
      {"mark": {"type": "circle", "size": 14, "color": "black", "opacity": 1}}
    ]
  },
  {
    "data": {"name": "daily"},
    "mark": {"type": "line", "strokeWidth": 3.5},
    "encoding": {
      "x": {"field": "d", "type": "ordinal", "axis": null, "scale": {"domain": ["2/20","2/21","2/22","2/23","2/24","2/29","3/1","3/2","3/3","3/5","3/6","3/7","3/8","3/9","3/12","3/13","3/14","3/15","3/16","3/19","3/20","3/21","3/22","3/23","3/26","3/27","3/28","3/29","3/30","4/2","4/3","4/5","4/6","4/9","4/10","4/11","4/12","4/13","4/16","4/17","4/18","4/19","4/20","4/23","4/24","4/25","4/26","4/27","4/30","5/2","5/3","5/4","5/7","5/8","5/9","5/10","5/11","5/14","5/15","5/16","5/17"], "range": [68, 549], "paddingInner": 0, "paddingOuter": 0}},
      "y": {"field": "total", "type": "quantitative", "axis": null, "scale": {"domain": [-10000, 20000], "range": [552.5, 242.5], "nice": false}},
      "stroke": {"datum": "三大法人合計", "type": "nominal", "scale": {"domain": ["加權指數", "三大法人合計"], "range": ["#000000", "#ff0000"]},
                 "legend": {"title": null, "orient": "none", "legendX": 74, "legendY": 522, "symbolType": "M-2,0H2", "symbolSize": 196, "symbolStrokeWidth": 3.5, "labelFont": "Noto Sans CJK TC", "labelFontSize": 13, "labelColor": "black", "labelOffset": 8, "rowPadding": 8, "padding": 0}},
      "strokeDash": {"datum": "三大法人合計", "type": "nominal", "scale": {"domain": ["加權指數", "三大法人合計"], "range": [[6, 3], [1, 0]]},
                 "legend": {"title": null, "orient": "none", "legendX": 74, "legendY": 522, "symbolType": "M-2,0H2", "symbolSize": 196, "symbolStrokeWidth": 3.5, "labelFont": "Noto Sans CJK TC", "labelFontSize": 13, "labelColor": "black", "labelOffset": 8, "rowPadding": 8, "padding": 0}}
    }
  }
],
"resolve": {"scale": {"x": "independent", "y": "independent"}}
}
